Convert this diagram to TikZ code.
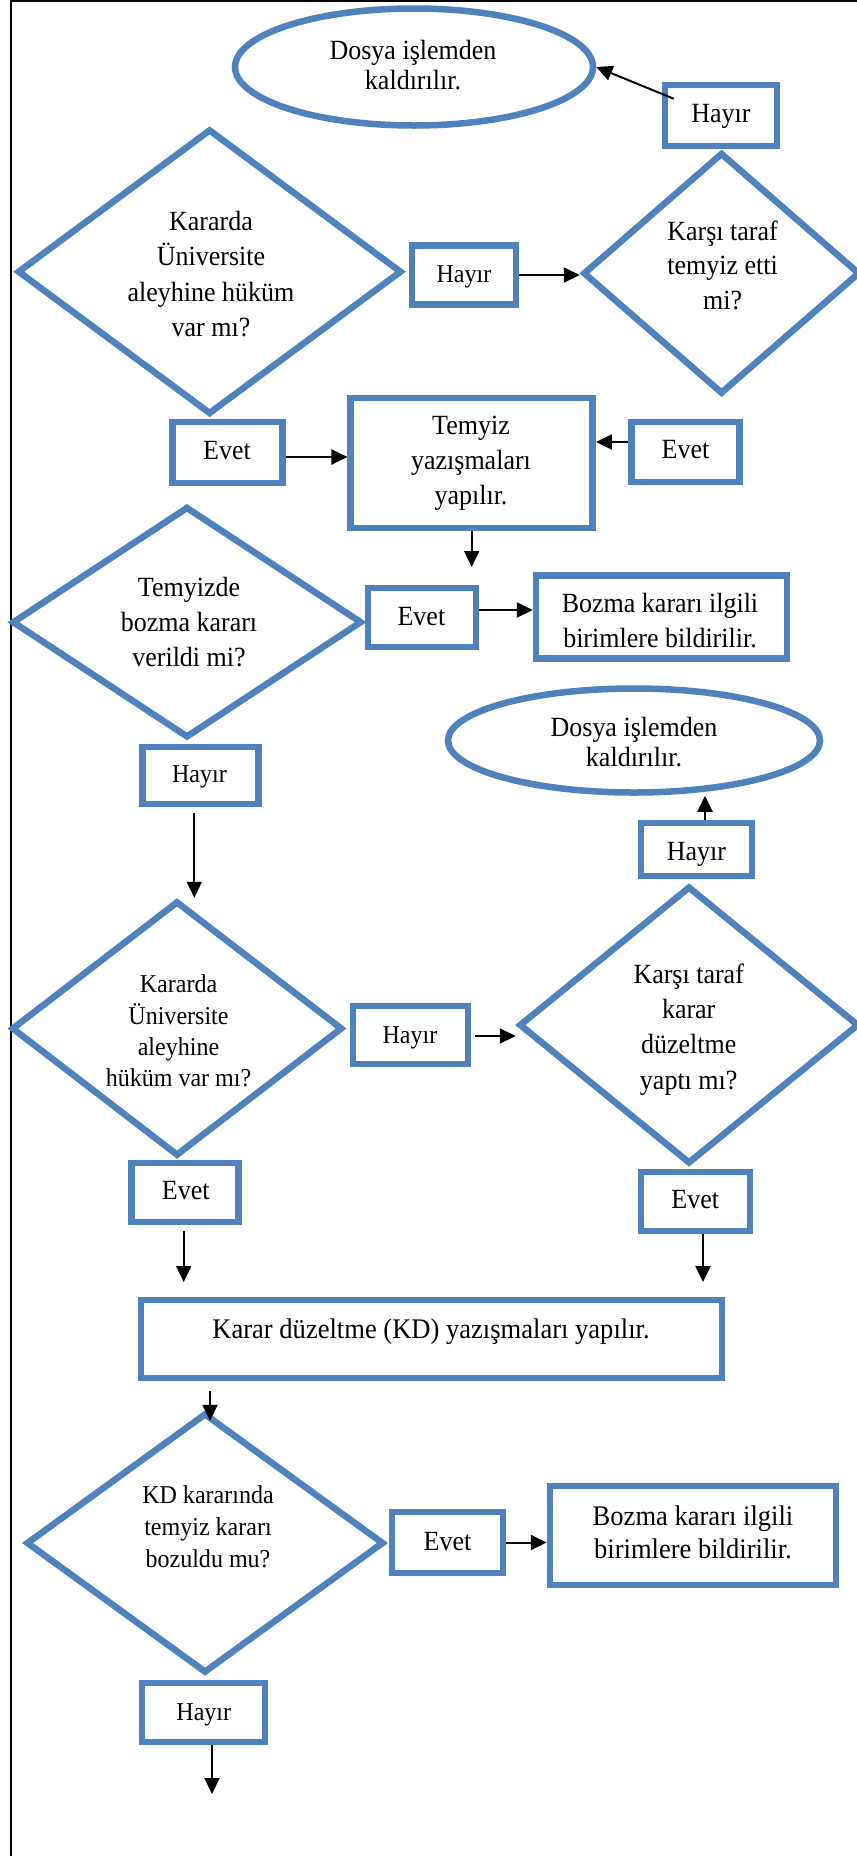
\documentclass[tikz,border=0pt]{standalone}
\usepackage{fontspec}
\setmainfont{Liberation Serif}[FakeStretch=0.935]
\usetikzlibrary{shapes.geometric, arrows.meta, calc}
\definecolor{blu}{RGB}{79,129,189}
\newcommand{\fsz}[2]{\fontsize{#1}{#2}\selectfont}
\newcommand{\topstrut}{\rule{0pt}{26pt}}
\begin{document}
\begin{tikzpicture}[x=1pt, y=-1pt,
  shp/.style={draw=blu, line width=6.5pt, fill=white, inner sep=0pt},
  bx/.style={shp, rectangle},
  dia/.style={shp, diamond},
  ell/.style={shp, ellipse},
  txt/.style={inner sep=0pt, anchor=north, align=center, text=black},
  arr/.style={draw=black, line width=2pt, -{Triangle[length=16pt,width=15pt]}},
  frame/.style={draw=black, line width=2.3pt}
]
\useasboundingbox (0,0) rectangle (857,1856);
\fill[white] (0,0) rectangle (857,1856);
% frame of the table cell
\draw[frame] (11,0) -- (11,1856);
\draw[frame, line width=1.6pt] (10,0.8) -- (857,0.8);

% shapes
\node[ell, minimum width=358pt, minimum height=117pt] (el1) at (414,67) {};
\node[dia, minimum width=384.4pt, minimum height=285.3pt] (d1) at (209.6,271.7) {};
\node[dia, minimum width=277pt, minimum height=241.4pt] (d2) at (721.5,273.3) {};
\node[bx, minimum width=112pt, minimum height=61pt] (h1) at (721,115.5) {};
\node[bx, minimum width=104pt, minimum height=58.6pt] (h2) at (464,275) {};
\node[bx, minimum width=110pt, minimum height=61pt] (e1) at (227.5,452.5) {};
\node[bx, minimum width=242pt, minimum height=130pt] (tmz) at (471.7,463) {};
\node[bx, minimum width=108pt, minimum height=60pt] (e2) at (685.5,452) {};
\node[dia, minimum width=350pt, minimum height=231.2pt] (d3) at (187,622.2) {};
\node[bx, minimum width=108pt, minimum height=59pt] (e3) at (422,617.5) {};
\node[bx, minimum width=251pt, minimum height=83pt] (bz1) at (661.5,617) {};
\node[ell, minimum width=372pt, minimum height=104pt] (el2) at (634,740.5) {};
\node[bx, minimum width=116pt, minimum height=57pt] (h3) at (200.3,775.7) {};
\node[dia, minimum width=331pt, minimum height=255pt] (d4) at (177,1028.5) {};
\node[dia, minimum width=340pt, minimum height=277.6pt] (d5) at (689,1025) {};
\node[bx, minimum width=115pt, minimum height=58pt] (h5) at (410.5,1035) {};
\node[bx, minimum width=111pt, minimum height=53pt] (h4) at (696.5,849.5) {};
\node[bx, minimum width=107pt, minimum height=59pt] (e4) at (185,1192.5) {};
\node[bx, minimum width=109pt, minimum height=59pt] (e5) at (695.7,1201.5) {};
\node[bx, minimum width=581pt, minimum height=78pt] (kd) at (431.5,1339) {};
\node[dia, minimum width=357.6pt, minimum height=260pt] (d6) at (205,1543) {};
\node[bx, minimum width=111pt, minimum height=61pt] (e6) at (447.5,1542.5) {};
\node[bx, minimum width=286pt, minimum height=99pt] (bz2) at (693,1535.5) {};
\node[bx, minimum width=123pt, minimum height=59pt] (h6) at (203.5,1712.5) {};

% connectors
\draw[arr] ($(h1.north west)+(12,17)$) -- (el1.east);
\draw[arr] (h2.east) -- (h2.east -| d2.west);
\coordinate (a3s) at ($(e1.east)+(0,4.5)$);
\draw[arr] (a3s) -- (a3s -| tmz.west);
\coordinate (a4s) at ($(e2.west)+(0,-10)$);
\draw[arr] (a4s) -- (a4s -| tmz.east);
\coordinate (a5e) at (471.7,567);
\draw[arr] (tmz.south) -- (a5e);
\coordinate (a6s) at ($(e3.east)+(0,-7.5)$);
\draw[arr] (a6s) -- (a6s -| bz1.west);
\coordinate (a7s) at ($(h3.south)+(-6,6)$);
\draw[arr] (a7s) -- (a7s |- d4.north);
\coordinate (a8s) at ($(h4.north)+(8.5,0)$);
\draw[arr] (a8s) -- (a8s |- el2.south);
\coordinate (a9s) at ($(h5.east)+(4,1)$);
\draw[arr] (a9s) -- (a9s -| d5.west);
\coordinate (a10e) at (183.7,1282);
\draw[arr] ($(e4.south)+(-1.3,6)$) -- (a10e);
\coordinate (a11e) at (703,1282);
\draw[arr] ($(e5.south)+(7.3,0)$) -- (a11e);
\coordinate (a12s) at (210,1391);
\draw[arr, shorten >=-11pt] (a12s) -- (a12s |- d6.north);
\draw[arr] (e6.east) -- (e6.east -| bz2.west);
\coordinate (a14e) at (212,1794);
\draw[arr] ($(h6.south)+(8.5,0)$) -- (a14e);

% texts
\node[txt, font={\fsz{27.8}{30}}] (el1t) at (413,33.3) {\topstrut Dosya işlemden\\kaldırılır.};
\node[txt, font={\fsz{27.8}{30}}] (h1t) at (721,96.7) {\topstrut Hayır};
\node[txt, font={\fsz{27.8}{35.5}}] (d1t) at (211,204) {\topstrut Kararda\\Üniversite\\aleyhine hüküm\\var mı?};
\node[txt, font={\fsz{25.7}{30}}] (h2t) at (464,256.7) {\topstrut Hayır};
\node[txt, font={\fsz{27.8}{34.6}}] (d2t) at (722.6,214) {\topstrut Karşı taraf\\temyiz etti\\mi?};
\node[txt, font={\fsz{27.8}{30}}] (e1t) at (227,433) {\topstrut Evet};
\node[txt, font={\fsz{27.8}{35}}] (tmzt) at (471,408) {\topstrut Temyiz\\yazışmaları\\yapılır.};
\node[txt, font={\fsz{27.8}{30}}] (e2t) at (685.5,432) {\topstrut Evet};
\node[txt, font={\fsz{27.8}{35}}] (d3t) at (189,570) {\topstrut Temyizde\\bozma kararı\\verildi mi?};
\node[txt, font={\fsz{27.8}{30}}] (e3t) at (421.4,599) {\topstrut Evet};
\node[txt, font={\fsz{27.8}{35}}] (bz1t) at (660,586) {\topstrut Bozma kararı ilgili\\birimlere bildirilir.};
\node[txt, font={\fsz{27.8}{30}}] (el2t) at (634,710.7) {\topstrut Dosya işlemden\\kaldırılır.};
\node[txt, font={\fsz{25.7}{30}}] (h3t) at (199.5,756.7) {\topstrut Hayır};
\node[txt, font={\fsz{27.8}{30}}] (h4t) at (696.4,834.7) {\topstrut Hayır};
\node[txt, font={\fsz{25.7}{31.3}}] (d4t) at (178.5,966.7) {\topstrut Kararda\\Üniversite\\aleyhine\\hüküm var mı?};
\node[txt, font={\fsz{25.7}{30}}] (h5t) at (410,1017) {\topstrut Hayır};
\node[txt, font={\fsz{27.8}{35.3}}] (d5t) at (688.7,957) {\topstrut Karşı taraf\\karar\\düzeltme\\yaptı mı?};
\node[txt, font={\fsz{27.8}{30}}] (e4t) at (185.8,1173) {\topstrut Evet};
\node[txt, font={\fsz{27.8}{30}}] (e5t) at (695.3,1182) {\topstrut Evet};
\node[txt, font={\fsz{28.4}{30}}] (kdt) at (431,1312) {\topstrut Karar düzeltme (KD) yazışmaları yapılır.};
\node[txt, font={\fsz{25.7}{32}}] (d6t) at (208,1477) {\topstrut KD kararında\\temyiz kararı\\bozuldu mu?};
\node[txt, font={\fsz{27.8}{30}}] (e6t) at (447.5,1524) {\topstrut Evet};
\node[txt, font={\fsz{28.4}{33}}] (bz2t) at (693,1499) {\topstrut Bozma kararı ilgili\\birimlere bildirilir.};
\node[txt, font={\fsz{25.7}{30}}] (h6t) at (203.8,1694) {\topstrut Hayır};
\end{tikzpicture}
\end{document}
